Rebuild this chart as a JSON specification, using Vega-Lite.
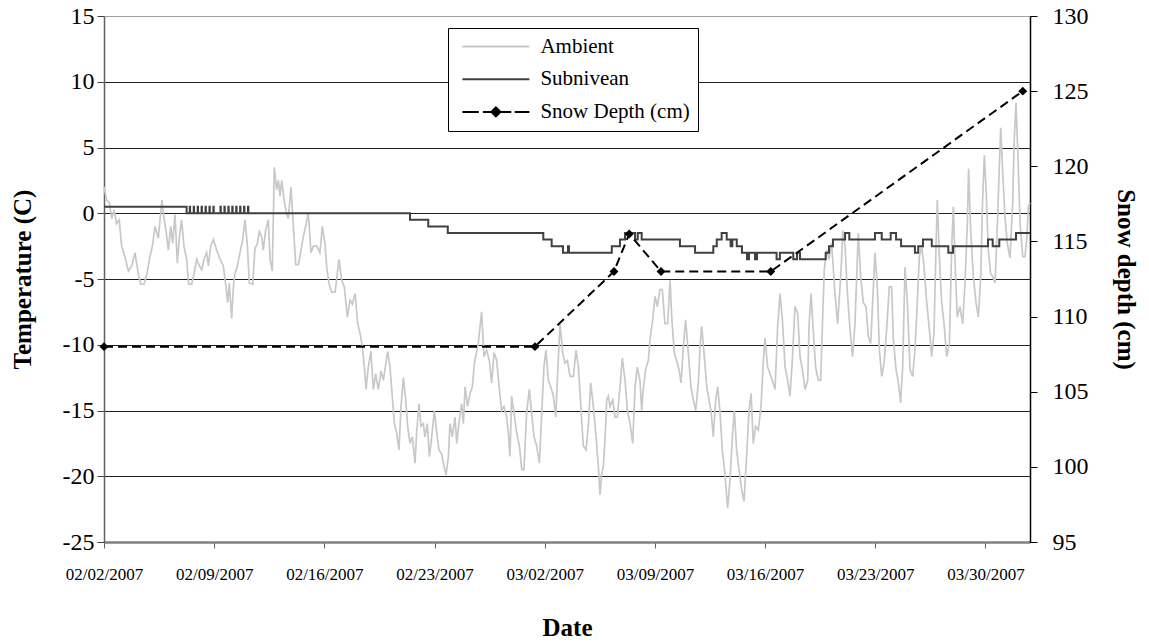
{
  "$schema": "https://vega.github.io/schema/vega-lite/v6.json",
  "width": 926,
  "height": 526,
  "autosize": {"type": "none"},
  "padding": {"left": 104, "top": 16, "right": 119, "bottom": 100},
  "background": "white",
  "config": {
    "font": "Liberation Serif",
    "view": {"stroke": null},
    "axis": {"labelColor": "black", "titleColor": "black", "labelFont": "Liberation Serif", "titleFont": "Liberation Serif"},
    "legend": {"labelFont": "Liberation Serif"}
  },
  "datasets": {
    "ambient": [
      {"d":0.00,"t":2.0},{"d":0.17,"t":1.0},{"d":0.34,"t":0.8},{"d":0.49,"t":-0.4},{"d":0.64,"t":0.25},{"d":0.80,"t":-0.8},{"d":0.97,"t":-0.5},{"d":1.12,"t":-2.5},{"d":1.33,"t":-3.3},{"d":1.55,"t":-4.4},{"d":1.76,"t":-4.0},{"d":1.97,"t":-3.0},{"d":2.18,"t":-4.6},{"d":2.33,"t":-5.4},{"d":2.54,"t":-5.4},{"d":2.71,"t":-4.7},{"d":2.92,"t":-3.3},{"d":3.09,"t":-2.4},{"d":3.24,"t":-1.0},{"d":3.45,"t":-1.9},{"d":3.60,"t":0.0},{"d":3.68,"t":1.0},{"d":3.81,"t":-0.4},{"d":3.94,"t":-1.3},{"d":4.09,"t":-2.8},{"d":4.24,"t":-1.0},{"d":4.36,"t":-2.3},{"d":4.51,"t":-0.1},{"d":4.66,"t":-3.8},{"d":4.79,"t":-1.8},{"d":4.93,"t":-0.5},{"d":5.08,"t":-2.5},{"d":5.25,"t":-3.5},{"d":5.38,"t":-5.4},{"d":5.57,"t":-5.4},{"d":5.72,"t":-4.6},{"d":5.89,"t":-3.5},{"d":6.06,"t":-4.0},{"d":6.21,"t":-4.3},{"d":6.35,"t":-3.5},{"d":6.52,"t":-3.0},{"d":6.63,"t":-4.0},{"d":6.78,"t":-2.5},{"d":6.95,"t":-2.0},{"d":7.16,"t":-2.8},{"d":7.37,"t":-3.5},{"d":7.58,"t":-4.0},{"d":7.75,"t":-5.6},{"d":7.86,"t":-6.8},{"d":7.96,"t":-5.3},{"d":8.11,"t":-8.0},{"d":8.22,"t":-5.6},{"d":8.32,"t":-4.6},{"d":8.47,"t":-4.0},{"d":8.64,"t":-3.0},{"d":8.81,"t":-2.0},{"d":8.96,"t":-0.5},{"d":9.11,"t":-2.5},{"d":9.23,"t":-5.3},{"d":9.45,"t":-5.4},{"d":9.59,"t":-2.7},{"d":9.74,"t":-2.3},{"d":9.87,"t":-1.4},{"d":10.02,"t":-1.8},{"d":10.12,"t":-2.8},{"d":10.27,"t":-1.3},{"d":10.44,"t":-0.5},{"d":10.55,"t":-3.5},{"d":10.69,"t":-4.4},{"d":10.82,"t":3.5},{"d":10.97,"t":1.8},{"d":11.08,"t":2.5},{"d":11.18,"t":1.3},{"d":11.29,"t":2.5},{"d":11.44,"t":1.0},{"d":11.61,"t":-0.1},{"d":11.71,"t":-0.4},
      {"d":11.88,"t":2.0},{"d":12.03,"t":-1.0},{"d":12.18,"t":-3.9},{"d":12.35,"t":-3.9},{"d":12.52,"t":-2.8},{"d":12.66,"t":-1.8},{"d":12.81,"t":-1.0},{"d":12.98,"t":0.0},{"d":13.15,"t":-3.0},{"d":13.30,"t":-2.5},{"d":13.51,"t":-2.5},{"d":13.72,"t":-3.0},{"d":13.87,"t":-1.0},{"d":14.04,"t":-2.3},{"d":14.15,"t":-4.1},{"d":14.29,"t":-5.3},{"d":14.46,"t":-6.0},{"d":14.68,"t":-6.0},{"d":14.82,"t":-4.6},{"d":14.93,"t":-3.5},{"d":15.10,"t":-5.1},{"d":15.27,"t":-5.6},{"d":15.46,"t":-7.9},{"d":15.63,"t":-6.6},{"d":15.78,"t":-6.9},{"d":15.95,"t":-6.1},{"d":16.12,"t":-8.4},{"d":16.26,"t":-9.1},{"d":16.41,"t":-10.1},{"d":16.54,"t":-11.7},{"d":16.65,"t":-13.4},{"d":16.79,"t":-11.7},{"d":16.96,"t":-10.5},{"d":17.11,"t":-13.4},{"d":17.26,"t":-12.2},{"d":17.43,"t":-13.4},{"d":17.60,"t":-12.0},{"d":17.75,"t":-12.7},{"d":17.85,"t":-11.9},{"d":18.02,"t":-10.5},{"d":18.17,"t":-11.7},{"d":18.28,"t":-13.4},{"d":18.45,"t":-16.0},{"d":18.59,"t":-16.7},{"d":18.74,"t":-18.0},{"d":18.87,"t":-14.7},{"d":19.02,"t":-12.5},{"d":19.17,"t":-14.2},{"d":19.29,"t":-16.2},{"d":19.44,"t":-17.5},{"d":19.59,"t":-17.0},{"d":19.76,"t":-19.0},{"d":19.86,"t":-16.7},{"d":20.01,"t":-14.5},{"d":20.14,"t":-16.2},{"d":20.29,"t":-16.0},{"d":20.39,"t":-17.0},{"d":20.54,"t":-16.0},{"d":20.67,"t":-18.5},{"d":20.82,"t":-17.0},{"d":20.99,"t":-15.0},{"d":21.14,"t":-16.7},{"d":21.28,"t":-18.0},{"d":21.45,"t":-18.3},{"d":21.62,"t":-19.3},{"d":21.73,"t":-19.9},{"d":21.88,"t":-18.5},{"d":21.98,"t":-16.0},{"d":22.13,"t":-17.0},{"d":22.30,"t":-15.5},{"d":22.41,"t":-17.5},{"d":22.55,"t":-16.0},{"d":22.72,"t":-14.5},{"d":22.83,"t":-16.0},{"d":22.94,"t":-13.2},{"d":23.10,"t":-14.7},{"d":23.25,"t":-13.7},{"d":23.40,"t":-13.2},{"d":23.53,"t":-11.4},
      {"d":23.78,"t":-9.9},{"d":23.99,"t":-7.5},{"d":24.14,"t":-10.9},{"d":24.31,"t":-10.4},{"d":24.48,"t":-11.2},{"d":24.63,"t":-12.9},{"d":24.78,"t":-10.6},{"d":24.95,"t":-11.2},{"d":25.12,"t":-13.4},{"d":25.26,"t":-15.0},{"d":25.41,"t":-14.7},{"d":25.58,"t":-15.5},{"d":25.69,"t":-16.7},{"d":25.79,"t":-18.5},{"d":25.90,"t":-13.9},{"d":26.05,"t":-15.2},{"d":26.22,"t":-16.7},{"d":26.39,"t":-17.7},{"d":26.54,"t":-19.5},{"d":26.68,"t":-19.5},{"d":26.85,"t":-15.2},{"d":27.02,"t":-13.4},{"d":27.17,"t":-15.2},{"d":27.32,"t":-17.0},{"d":27.49,"t":-17.7},{"d":27.66,"t":-19.0},{"d":27.81,"t":-15.2},{"d":27.95,"t":-11.7},{"d":28.08,"t":-10.4},{"d":28.23,"t":-12.7},{"d":28.38,"t":-13.2},{"d":28.55,"t":-13.9},{"d":28.70,"t":-15.5},{"d":28.82,"t":-12.2},{"d":28.97,"t":-8.4},{"d":29.14,"t":-10.6},{"d":29.29,"t":-11.4},{"d":29.44,"t":-11.2},{"d":29.61,"t":-12.4},{"d":29.82,"t":-12.4},{"d":29.99,"t":-10.4},{"d":30.14,"t":-11.7},{"d":30.28,"t":-14.4},{"d":30.45,"t":-17.7},{"d":30.62,"t":-18.0},{"d":30.77,"t":-16.2},{"d":30.92,"t":-12.9},{"d":31.09,"t":-14.7},{"d":31.26,"t":-17.0},{"d":31.41,"t":-19.3},{"d":31.51,"t":-21.4},{"d":31.62,"t":-19.8},{"d":31.72,"t":-19.3},{"d":31.83,"t":-17.2},{"d":31.94,"t":-14.2},{"d":32.04,"t":-13.9},{"d":32.15,"t":-14.7},{"d":32.32,"t":-14.2},{"d":32.47,"t":-15.5},{"d":32.61,"t":-15.5},{"d":32.78,"t":-13.2},{"d":32.93,"t":-11.0},{"d":33.10,"t":-12.7},{"d":33.25,"t":-15.0},{"d":33.42,"t":-16.0},{"d":33.59,"t":-17.5},{"d":33.74,"t":-13.2},{"d":33.88,"t":-11.7},{"d":34.05,"t":-12.7},{"d":34.16,"t":-15.0},{"d":34.26,"t":-13.4},{"d":34.41,"t":-11.9},{"d":34.58,"t":-11.2},{"d":34.69,"t":-9.6},{"d":34.86,"t":-8.1},{"d":35.01,"t":-6.3},{"d":35.15,"t":-7.1},{"d":35.32,"t":-5.8},
      {"d":35.47,"t":-5.8},{"d":35.64,"t":-8.4},{"d":35.81,"t":-8.4},{"d":35.96,"t":-5.1},{"d":36.07,"t":-7.9},{"d":36.23,"t":-10.6},{"d":36.38,"t":-11.2},{"d":36.53,"t":-11.9},{"d":36.66,"t":-12.9},{"d":36.81,"t":-10.1},{"d":36.95,"t":-8.1},{"d":37.12,"t":-10.6},{"d":37.29,"t":-13.2},{"d":37.44,"t":-14.2},{"d":37.59,"t":-15.0},{"d":37.76,"t":-12.9},{"d":37.87,"t":-10.1},{"d":37.97,"t":-8.6},{"d":38.14,"t":-10.9},{"d":38.29,"t":-13.2},{"d":38.44,"t":-14.2},{"d":38.56,"t":-15.0},{"d":38.71,"t":-17.0},{"d":38.86,"t":-14.2},{"d":38.99,"t":-13.2},{"d":39.14,"t":-15.2},{"d":39.28,"t":-18.0},{"d":39.45,"t":-19.8},{"d":39.62,"t":-22.4},{"d":39.77,"t":-20.3},{"d":39.92,"t":-17.0},{"d":40.05,"t":-15.0},{"d":40.19,"t":-18.0},{"d":40.34,"t":-19.5},{"d":40.51,"t":-21.0},{"d":40.66,"t":-21.9},{"d":40.83,"t":-18.3},{"d":40.98,"t":-15.0},{"d":41.11,"t":-13.7},{"d":41.25,"t":-17.5},{"d":41.40,"t":-16.2},{"d":41.57,"t":-16.5},{"d":41.74,"t":-14.7},{"d":41.89,"t":-11.2},{"d":41.99,"t":-9.5},{"d":42.16,"t":-11.7},{"d":42.31,"t":-12.2},{"d":42.46,"t":-12.7},{"d":42.63,"t":-13.4},{"d":42.80,"t":-8.6},{"d":42.95,"t":-6.1},{"d":43.10,"t":-8.1},{"d":43.27,"t":-11.7},{"d":43.44,"t":-12.7},{"d":43.58,"t":-13.9},{"d":43.73,"t":-11.2},{"d":43.90,"t":-7.1},{"d":44.07,"t":-7.6},{"d":44.22,"t":-10.9},{"d":44.37,"t":-11.9},{"d":44.54,"t":-13.4},{"d":44.71,"t":-12.7},{"d":44.79,"t":-8.6},{"d":44.92,"t":-6.1},{"d":45.07,"t":-9.1},{"d":45.21,"t":-11.7},{"d":45.38,"t":-12.7},{"d":45.53,"t":-12.7},{"d":45.64,"t":-8.6},{"d":45.76,"t":-4.3},{"d":45.91,"t":-2.8},{"d":46.06,"t":-3.5},{"d":46.23,"t":-2.3},{"d":46.44,"t":-6.1},{"d":46.61,"t":-8.4},{"d":46.76,"t":-5.6},{"d":46.86,"t":-3.5},
      {"d":46.93,"t":-1.3},{"d":47.08,"t":-2.5},{"d":47.23,"t":-6.1},{"d":47.40,"t":-8.9},{"d":47.56,"t":-10.9},{"d":47.71,"t":-8.4},{"d":47.92,"t":-1.5},{"d":48.07,"t":-4.8},{"d":48.24,"t":-6.8},{"d":48.41,"t":-7.1},{"d":48.56,"t":-9.4},{"d":48.71,"t":-9.9},{"d":48.88,"t":-5.6},{"d":48.98,"t":-3.0},{"d":49.13,"t":-5.6},{"d":49.26,"t":-10.4},{"d":49.41,"t":-12.4},{"d":49.56,"t":-11.4},{"d":49.72,"t":-8.9},{"d":49.89,"t":-5.6},{"d":50.04,"t":-5.6},{"d":50.15,"t":-9.6},{"d":50.32,"t":-11.9},{"d":50.47,"t":-12.9},{"d":50.61,"t":-14.4},{"d":50.74,"t":-11.7},{"d":50.89,"t":-4.1},{"d":51.04,"t":-6.8},{"d":51.21,"t":-11.9},{"d":51.38,"t":-12.4},{"d":51.52,"t":-10.4},{"d":51.67,"t":-6.8},{"d":51.80,"t":-3.3},{"d":51.95,"t":-2.5},{"d":52.10,"t":-4.1},{"d":52.27,"t":-6.8},{"d":52.44,"t":-8.9},{"d":52.58,"t":-10.9},{"d":52.73,"t":-9.1},{"d":52.86,"t":-2.5},{"d":52.94,"t":1.0},{"d":53.07,"t":-3.3},{"d":53.22,"t":-6.8},{"d":53.37,"t":-8.4},{"d":53.54,"t":-10.9},{"d":53.71,"t":-9.9},{"d":53.85,"t":-2.8},{"d":53.96,"t":0.5},{"d":54.07,"t":-3.8},{"d":54.21,"t":-7.9},{"d":54.38,"t":-7.1},{"d":54.55,"t":-8.4},{"d":54.70,"t":-5.3},{"d":54.85,"t":-0.8},{"d":54.93,"t":3.4},{"d":55.06,"t":-1.3},{"d":55.23,"t":-4.8},{"d":55.40,"t":-6.8},{"d":55.55,"t":-7.9},{"d":55.70,"t":-4.8},{"d":55.82,"t":1.0},{"d":55.93,"t":4.4},{"d":56.04,"t":1.8},{"d":56.18,"t":-2.8},{"d":56.33,"t":-4.6},{"d":56.46,"t":-4.8},{"d":56.61,"t":-5.3},{"d":56.76,"t":-0.8},{"d":56.88,"t":3.5},{"d":56.97,"t":6.5},{"d":57.09,"t":3.3},{"d":57.24,"t":-0.3},{"d":57.39,"t":-2.3},{"d":57.56,"t":-3.4},{"d":57.73,"t":0.8},{"d":57.83,"t":5.6},{"d":57.94,"t":8.4},{"d":58.05,"t":4.8},{"d":58.20,"t":-0.8},{"d":58.37,"t":-3.3},{"d":58.51,"t":-3.3},{"d":58.62,"t":-2.0},{"d":58.73,"t":0.5},{"d":58.83,"t":0.8}
    ],
    "subnivean": [
      {"d":0,"t":0.5},
      {"d":5.25,"t":0},
      {"d":5.45,"t":0.5},{"d":5.47,"t":0},{"d":5.70,"t":0.5},{"d":5.72,"t":0},{"d":5.95,"t":0.5},{"d":5.97,"t":0},{"d":6.20,"t":0.5},{"d":6.22,"t":0},{"d":6.45,"t":0.5},{"d":6.47,"t":0},{"d":6.70,"t":0.5},{"d":6.72,"t":0},{"d":6.95,"t":0.5},{"d":6.97,"t":0},
      {"d":7.40,"t":0.5},{"d":7.42,"t":0},{"d":7.65,"t":0.5},{"d":7.67,"t":0},{"d":7.90,"t":0.5},{"d":7.92,"t":0},{"d":8.15,"t":0.5},{"d":8.17,"t":0},{"d":8.40,"t":0.5},{"d":8.42,"t":0},{"d":8.65,"t":0.5},{"d":8.67,"t":0},{"d":8.90,"t":0.5},{"d":8.92,"t":0},{"d":9.15,"t":0.5},{"d":9.17,"t":0},
      {"d":19.44,"t":-0.5},{"d":20.60,"t":-1.0},{"d":21.84,"t":-1.5},{"d":27.91,"t":-2.0},{"d":28.44,"t":-2.5},{"d":29.16,"t":-3.0},{"d":29.48,"t":-2.5},{"d":29.54,"t":-3.0},{"d":32.26,"t":-2.5},{"d":32.78,"t":-2.0},{"d":33.10,"t":-1.5},{"d":33.74,"t":-2.0},{"d":33.91,"t":-1.5},{"d":34.16,"t":-2.0},{"d":36.59,"t":-2.5},{"d":37.55,"t":-3.0},{"d":38.71,"t":-2.5},{"d":38.93,"t":-2.0},{"d":39.24,"t":-1.5},{"d":39.56,"t":-2.0},{"d":39.81,"t":-2.5},{"d":39.92,"t":-2.0},{"d":40.20,"t":-2.5},{"d":40.53,"t":-3.0},{"d":40.85,"t":-3.5},{"d":40.98,"t":-3.0},{"d":41.36,"t":-3.5},{"d":41.49,"t":-3.0},{"d":42.73,"t":-3.5},{"d":42.94,"t":-3.0},{"d":43.79,"t":-3.5},{"d":44.03,"t":-3.0},{"d":44.22,"t":-3.5},{"d":45.85,"t":-3.0},{"d":46.06,"t":-2.5},{"d":46.31,"t":-2.0},{"d":47.08,"t":-1.5},{"d":47.35,"t":-2.0},{"d":48.98,"t":-1.5},{"d":49.41,"t":-2.0},{"d":49.98,"t":-1.5},{"d":50.32,"t":-2.0},{"d":50.64,"t":-2.5},{"d":51.52,"t":-3.0},{"d":51.73,"t":-2.5},{"d":52.03,"t":-2.0},{"d":52.59,"t":-2.5},{"d":53.64,"t":-3.0},{"d":53.94,"t":-2.5},{"d":56.16,"t":-2.0},{"d":56.46,"t":-2.5},{"d":56.88,"t":-2.0},{"d":57.94,"t":-1.5},{"d":58.83,"t":-1.5}
    ],
    "snow": [
      {"d":0,"cm":108},{"d":27.38,"cm":108},{"d":32.40,"cm":113},{"d":33.37,"cm":115.5},{"d":35.39,"cm":113},{"d":42.36,"cm":113},{"d":58.37,"cm":125}
    ]
  },
  "layer": [
    {
      "layer": [
        {
          "data": {"name": "ambient"},
          "mark": {"type": "line", "strokeWidth": 1.7},
          "encoding": {
            "x": {"field": "d", "type": "quantitative", "scale": {"domain": [0, 58.83], "nice": false, "zero": false},
              "axis": {"values": [0,7,14,21,28,35,42,49,56], "labelExpr": "timeFormat(datetime(2007, 1, 2 + datum.value), '%m/%d/%Y')", "labelFont": "Liberation Serif", "labelFontSize": 17, "tickSize": 6, "tickColor": "#606060", "domainColor": "#808080", "domainWidth": 2.5, "grid": false, "labelPadding": 18, "labelFlush": false, "labelOverlap": false, "title": "Date", "titleFont": "Liberation Serif", "titleFontSize": 25, "titleFontWeight": "bold", "titleY": 73}},
            "y": {"field": "t", "type": "quantitative", "scale": {"domain": [-25, 15], "nice": false, "zero": false},
              "axis": {"orient": "left", "values": [-25,-20,-15,-10,-5,0,5,10,15], "labelExpr": "'' + datum.value", "labelFont": "Liberation Serif", "labelFontSize": 24, "tickSize": 7, "tickColor": "#404040", "domainColor": "#606060", "domainWidth": 1.5, "grid": true, "gridColor": {"condition": {"test": "datum.value == 15", "value": "#a0a0a0"}, "value": "#202020"}, "gridWidth": 1.2, "labelPadding": 3, "title": "Temperature (C)", "titleFont": "Liberation Serif", "titleFontSize": 25, "titleFontWeight": "bold", "titleX": -69, "titleY": 263}},
            "color": {"datum": "Ambient", "type": "nominal",
              "scale": {"domain": ["Ambient", "Subnivean", "Snow Depth (cm)"], "range": ["#c8c8c8", "#404040", "#000000"]},
              "legend": {
                "title": null, "orient": "none", "legendX": 344, "legendY": 12,
                "padding": 8, "strokeColor": "black", "fillColor": "white",
                "labelFont": "Liberation Serif", "labelFontSize": 21, "labelColor": "black", "labelLimit": 0, "labelOffset": 10, "symbolOffset": 5.4,
                "symbolSize": 4489, "symbolStrokeWidth": 2, "clipHeight": 21, "rowPadding": 10.7,
                "encode": {"symbols": {"update": {
                  "shape": {"signal": "datum.value === 'Snow Depth (cm)' ? 'M-1,0L-0.51,0M-0.39,0L-0.09,0M0.11,0L0.46,0M0.56,0L1,0M-0.134,0L0,-0.134L0.134,0L0,0.134Z' : 'M-1,0L1,0'"},
                  "fill": {"signal": "datum.value === 'Snow Depth (cm)' ? '#000000' : 'transparent'"},
                  "stroke": {"signal": "datum.value === 'Ambient' ? '#c8c8c8' : datum.value === 'Subnivean' ? '#404040' : '#000000'"},
                  "strokeDash": {"value": [1, 0]},
                  "strokeWidth": {"value": 2},
                  "opacity": {"value": 1}
                }}}
              }}
          }
        },
        {
          "data": {"name": "subnivean"},
          "mark": {"type": "line", "interpolate": "step-after", "strokeWidth": 2},
          "encoding": {
            "x": {"field": "d", "type": "quantitative"},
            "y": {"field": "t", "type": "quantitative"},
            "color": {"datum": "Subnivean", "type": "nominal"}
          }
        }
      ]
    },
    {
      "layer": [
        {
          "data": {"name": "snow"},
          "mark": {"type": "line", "strokeDash": [9, 5], "strokeWidth": 2},
          "encoding": {
            "x": {"field": "d", "type": "quantitative"},
            "y": {"field": "cm", "type": "quantitative", "scale": {"domain": [95, 130], "nice": false, "zero": false},
              "axis": {"orient": "right", "values": [95,100,105,110,115,120,125,130], "labelFont": "Liberation Serif", "labelFontSize": 24, "tickSize": 7, "tickColor": "black", "domainColor": "black", "domainWidth": 1.5, "grid": false, "labelPadding": 15, "title": "Snow depth (cm)", "titleFont": "Liberation Serif", "titleFontSize": 25, "titleFontWeight": "bold", "titleX": 82, "titleY": 263}},
            "color": {"datum": "Snow Depth (cm)", "type": "nominal"}
          }
        },
        {
          "data": {"name": "snow"},
          "mark": {"type": "point", "shape": "diamond", "filled": true, "size": 80, "opacity": 1, "color": "black"},
          "encoding": {
            "x": {"field": "d", "type": "quantitative"},
            "y": {"field": "cm", "type": "quantitative"}
          }
        }
      ]
    }
  ],
  "resolve": {"scale": {"y": "independent"}}
}
